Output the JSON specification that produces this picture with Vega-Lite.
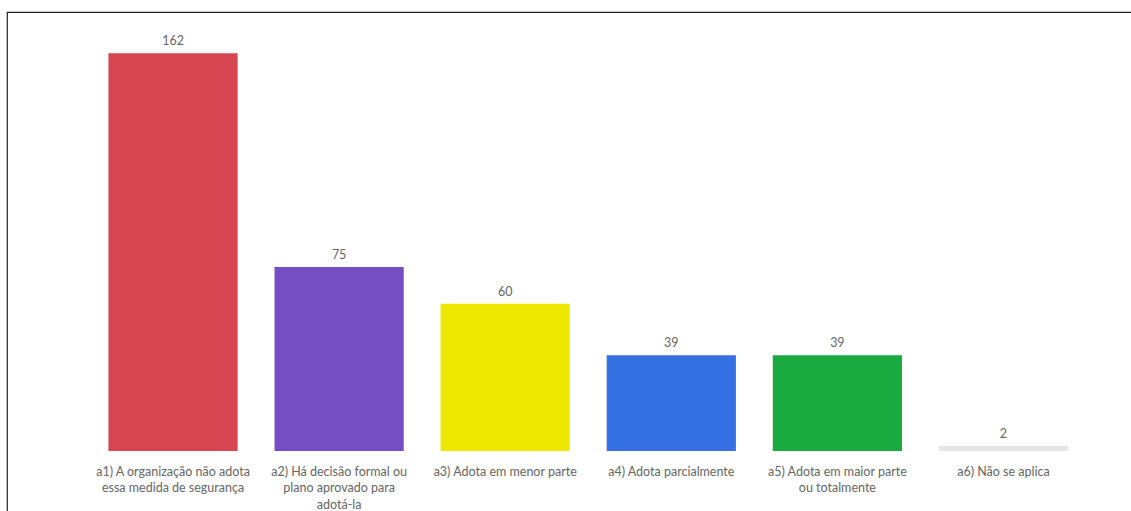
{
  "$schema": "https://vega.github.io/schema/vega-lite/v6.json",
  "width": 1140,
  "height": 520,
  "autosize": {"type": "none"},
  "padding": {"left": 7, "top": 12, "right": 0, "bottom": 0},
  "background": "white",
  "config": {
    "view": {"stroke": "#222222", "strokeWidth": 1.2},
    "font": "Lato"
  },
  "data": {
    "values": [
      {"resposta": "a1) A organização não adota|essa medida de segurança", "valor": 162},
      {"resposta": "a2) Há decisão formal ou|plano aprovado para|adotá-la", "valor": 75},
      {"resposta": "a3) Adota em menor parte", "valor": 60},
      {"resposta": "a4) Adota parcialmente", "valor": 39},
      {"resposta": "a5) Adota em maior parte|ou totalmente", "valor": 39},
      {"resposta": "a6) Não se aplica", "valor": 2}
    ]
  },
  "encoding": {
    "x": {
      "field": "resposta",
      "type": "nominal",
      "sort": null,
      "scale": {"range": [83, 1079.5], "paddingInner": 0.222, "paddingOuter": 0.111},
      "axis": {
        "title": null,
        "domain": false,
        "ticks": false,
        "labelAngle": 0,
        "offset": -81,
        "labelPadding": 14,
        "labelFont": "Lato",
        "labelFontSize": 12.5,
        "labelColor": "#666666",
        "labelLineHeight": 16.8,
        "labelLimit": 0,
        "labelOverlap": false,
        "labelExpr": "split(datum.label, '|')"
      }
    },
    "y": {
      "field": "valor",
      "type": "quantitative",
      "scale": {"domain": [0, 162], "range": [439, 41.3], "nice": false},
      "axis": null
    }
  },
  "layer": [
    {
      "mark": {"type": "bar"},
      "encoding": {
        "color": {
          "field": "resposta",
          "type": "nominal",
          "sort": null,
          "scale": {"range": ["#D64550", "#744EC2", "#EEE800", "#3671E3", "#1AAB40", "#E6E6E6"]},
          "legend": null
        }
      }
    },
    {
      "mark": {"type": "text", "baseline": "alphabetic", "dy": -8, "fontSize": 12.5, "color": "#666666", "font": "Lato"},
      "encoding": {
        "text": {"field": "valor", "type": "quantitative"}
      }
    }
  ]
}
